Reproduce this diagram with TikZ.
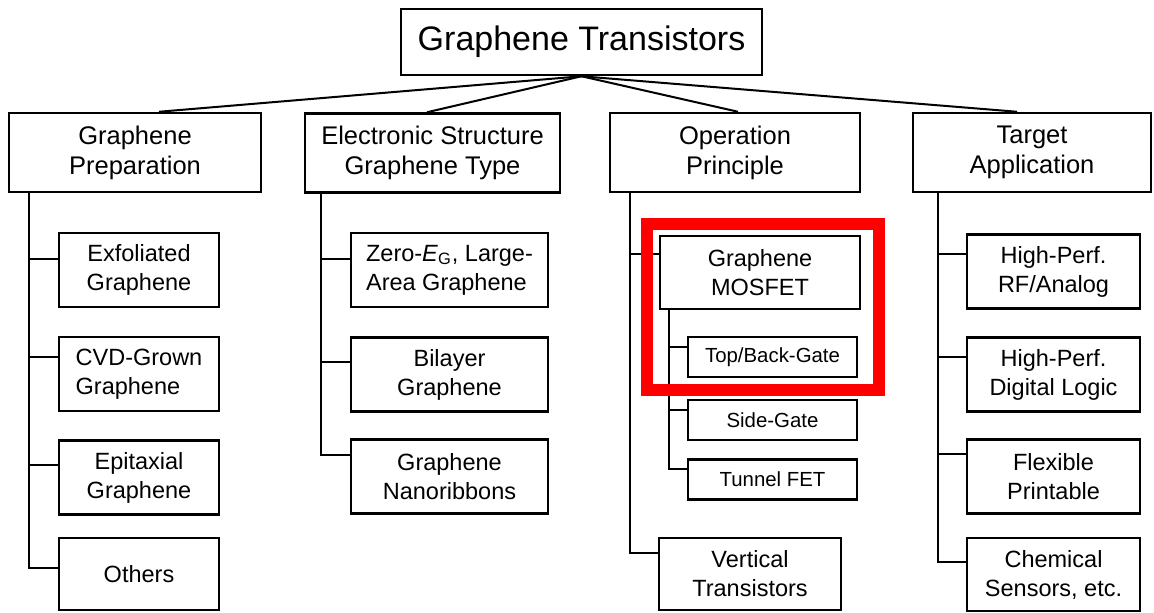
\documentclass[tikz,border=0pt]{standalone}
\usepackage{fontspec}
\setmainfont{Liberation Sans}
\begin{document}
\begin{tikzpicture}[x=0.5pt, y=-0.5pt,
  box/.style={draw, line width=1.25pt, align=center, inner sep=0pt},
  head/.style={box, minimum width=#1, minimum height=39.5pt,
    font=\fontsize{12.75}{15}\selectfont},
  leaf/.style={box, minimum width=#1, minimum height=37pt,
    font=\fontsize{11.75}{14.5}\selectfont},
  gate/.style={box, minimum width=84.5pt, minimum height=20pt,
    font=\fontsize{10.2}{12}\selectfont},
  link/.style={line width=1pt}]
\useasboundingbox (0,0) rectangle (1154,612);

\node [box, minimum width=180.5pt, minimum height=33pt,
  font=\fontsize{17}{20}\selectfont] (root) at (581.5,42)
  {Graphene Transistors};

\node [head=126pt] (prep) at (135,152.5) {Graphene\\Preparation};
\node [head=127.5pt] (elec) at (432.5,153) {Electronic Structure\\Graphene Type};
\node [head=125pt] (oper) at (735,152.5) {Operation\\Principle};
\node [head=119pt] (targ) at (1032,152.5) {Target\\Application};

\node [leaf=80pt] (exf) at (139,270) {Exfoliated\\Graphene};
\node [leaf=80pt, align=left] (cvd) at (139,374) {CVD-Grown\\Graphene};
\node [leaf=80pt] (epi) at (139,477.5) {Epitaxial\\Graphene};
\node [leaf=80pt, minimum height=36pt] (oth) at (139,574) {Others};

\node [leaf=98.5pt, align=left] (zero) at (449.5,270)
  {Zero-\textit{E}\textsubscript{G}, Large-\\Area Graphene};
\node [leaf=98.5pt] (bil) at (449.5,374.5) {Bilayer\\Graphene};
\node [leaf=98.5pt] (nano) at (449.5,476.5) {Graphene\\Nanoribbons};

\node [leaf=100pt, minimum height=36.5pt] (mos) at (760,272.5) {Graphene\\MOSFET};
\node [gate] (tb) at (772.5,357) {Top/Back-Gate};
\node [gate] (sg) at (772.5,420) {Side-Gate};
\node [gate] (tf) at (772.5,479.5) {Tunnel FET};
\node [leaf=91pt, minimum height=36pt] (vt) at (750,574) {Vertical\\Transistors};

\node [leaf=86.5pt] (rf) at (1053.5,271.5) {High-Perf.\\RF/Analog};
\node [leaf=86.5pt] (dl) at (1053.5,374.5) {High-Perf.\\Digital Logic};
\node [leaf=86.5pt] (fp) at (1053.5,476.5) {Flexible\\Printable};
\node [leaf=86.5pt, minimum height=36.5pt] (cs) at (1053.5,574.5)
  {Chemical\\Sensors, etc.};

\begin{scope}[link]
  \draw (root.south) -- ([xshift=12pt]prep.north);
  \draw (root.south) -- ([xshift=-2.75pt]elec.north);
  \draw (root.south) -- ([xshift=1.5pt]oper.north);
  \draw (root.south) -- ([xshift=-7.5pt]targ.north);

  \draw ([xshift=10.5pt]prep.south west) |- ([yshift=5.5pt]exf.west);
  \draw ([xshift=10.5pt]prep.south west) |- ([yshift=8.5pt]cvd.west);
  \draw ([xshift=10.5pt]prep.south west) |- ([yshift=6.25pt]epi.west);
  \draw ([xshift=10.5pt]prep.south west) |- ([yshift=3pt]oth.west);

  \draw ([xshift=8.5pt]elec.south west) |- ([yshift=5.5pt]zero.west);
  \draw ([xshift=8.5pt]elec.south west) |- ([yshift=6.25pt]bil.west);
  \draw ([xshift=8.5pt]elec.south west) |- ([yshift=10.75pt]nano.west);

  \draw ([xshift=10.5pt]oper.south west) |- ([yshift=9.25pt]mos.west);
  \draw ([xshift=10.5pt]oper.south west) |- ([yshift=10.5pt]vt.west);
  \draw ([xshift=5pt]mos.south west) |- ([yshift=5pt]tb.west);
  \draw ([xshift=5pt]mos.south west) |- ([yshift=5pt]sg.west);
  \draw ([xshift=5pt]mos.south west) |- ([yshift=5.25pt]tf.west);

  \draw ([xshift=13pt]targ.south west) |- ([yshift=8.75pt]rf.west);
  \draw ([xshift=13pt]targ.south west) |- ([yshift=8.75pt]dl.west);
  \draw ([xshift=13pt]targ.south west) |- ([yshift=11.25pt]fp.west);
  \draw ([xshift=13pt]targ.south west) |- ([yshift=6.25pt]cs.west);
\end{scope}

\draw [red, line width=6pt] (647,224) rectangle (879,390);
\end{tikzpicture}
\end{document}
